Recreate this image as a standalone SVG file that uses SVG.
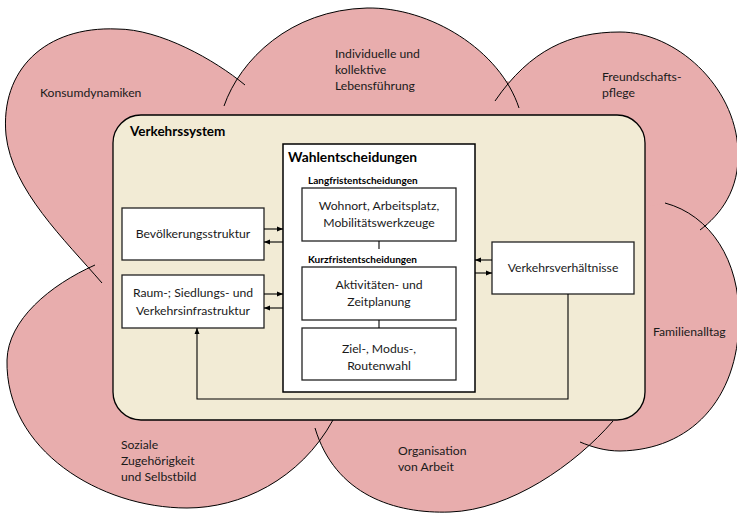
<svg xmlns="http://www.w3.org/2000/svg" width="737" height="513" viewBox="0 0 737 513">
<style>
.cloud{fill:#E8ADAD;stroke:none}
.arc{fill:none;stroke:#000;stroke-width:1}
.sys{fill:#F2EBD5;stroke:#000;stroke-width:1.3}
.box{fill:#fff;stroke:#222;stroke-width:1.3}
.outer{fill:#fff;stroke:#000;stroke-width:1.5}
.t{font-family:Lato,"Liberation Sans",sans-serif;font-size:12.2px;fill:#1a1a1a}
.c{text-anchor:middle}
.h{font-weight:bold;font-size:13.5px;fill:#000}
.s{font-weight:bold;font-size:10px;fill:#000}
.con{fill:none;stroke:#000;stroke-width:1.1}
</style>
<defs>
<marker id="ah" markerWidth="6" markerHeight="6" refX="6" refY="3" orient="auto" markerUnits="userSpaceOnUse">
<path d="M0,0.5 L6,3 L0,5.5 Z" fill="#000"/>
</marker>
</defs>
<g id="cloud">
<polygon class="cloud" points="88,270 239,80 508,81 707,225 590,445 322,440"/>
<path class="cloud" d="M102,283 C65,240 12,190 6,135 C0,70 45,26 117,29 C160,29 215,60 245,85 L370,260 Z"/>
<path class="cloud" d="M224,106 C240,60 290,10 367,8 C430,7 500,50 519,108 L370,260 Z"/>
<path class="cloud" d="M495,101 C530,50 570,32 620,32 C675,32 735,85 738,150 C740,190 720,215 700,230 L370,260 Z"/>
<path class="cloud" d="M665,203 C710,215 740,260 739,320 C738,400 690,450 620,451 C605,451 592,447 580,442 L370,260 Z"/>
<path class="cloud" d="M315,428 C335,495 395,514 450,512 C510,510 575,465 613,421 L370,260 Z"/>
<path class="cloud" d="M333,420 C300,480 240,508 187,508 C100,508 5,450 7,360 C8,320 50,285 95,265 L370,260 Z"/>
<path class="arc" d="M102,283 C65,240 12,190 6,135 C0,70 45,26 117,29 C160,29 215,60 245,85"/>
<path class="arc" d="M224,106 C240,60 290,10 367,8 C430,7 500,50 519,108"/>
<path class="arc" d="M495,101 C530,50 570,32 620,32 C675,32 735,85 738,150 C740,190 720,215 700,230"/>
<path class="arc" d="M665,203 C710,215 740,260 739,320 C738,400 690,450 620,451 C605,451 592,447 580,442"/>
<path class="arc" d="M315,428 C335,495 395,514 450,512 C510,510 575,465 613,421"/>
<path class="arc" d="M333,420 C300,480 240,508 187,508 C100,508 5,450 7,360 C8,320 50,285 95,265"/>
<text class="t" x="40" y="97">Konsumdynamiken</text>
<text class="t" x="335" y="58">Individuelle und</text>
<text class="t" x="335" y="74">kollektive</text>
<text class="t" x="335" y="90">Lebensführung</text>
<text class="t" x="602" y="81">Freundschafts-</text>
<text class="t" x="602" y="97">pflege</text>
<text class="t" x="653" y="336">Familienalltag</text>
<text class="t" x="398" y="455">Organisation</text>
<text class="t" x="398" y="471">von Arbeit</text>
<text class="t" x="121" y="449">Soziale</text>
<text class="t" x="121" y="465">Zugehörigkeit</text>
<text class="t" x="121" y="481">und Selbstbild</text>
</g>
<g id="verkehrssystem">
<rect class="sys" x="113" y="115" width="532" height="305" rx="28" ry="28"/>
<text class="t h" x="130" y="136">Verkehrssystem</text>
</g>
<g id="wahlentscheidungen">
<rect class="outer" x="283" y="144" width="192" height="248"/>
<text class="t h" x="288" y="162" style="font-size:13.8px">Wahlentscheidungen</text>
<text class="t s" x="308" y="184">Langfristentscheidungen</text>
<text class="t s" x="308" y="263">Kurzfristentscheidungen</text>
</g>
<g id="wohnort">
<rect class="box" x="302" y="188" width="154" height="53"/>
<text class="t c" x="379" y="210">Wohnort, Arbeitsplatz,</text>
<text class="t c" x="379" y="227">Mobilitätswerkzeuge</text>
</g>
<g id="aktivitaeten">
<rect class="box" x="302" y="267" width="154" height="53"/>
<text class="t c" x="379" y="289">Aktivitäten- und</text>
<text class="t c" x="379" y="306">Zeitplanung</text>
</g>
<g id="zielwahl">
<rect class="box" x="302" y="328" width="154" height="52"/>
<text class="t c" x="379" y="353">Ziel-, Modus-,</text>
<text class="t c" x="379" y="370">Routenwahl</text>
</g>
<g id="bevoelkerung">
<rect class="box" x="122" y="208" width="142" height="52"/>
<text class="t c" x="193" y="238">Bevölkerungsstruktur</text>
</g>
<g id="raum">
<rect class="box" x="122" y="275" width="142" height="53"/>
<text class="t c" x="193" y="297">Raum-; Siedlungs- und</text>
<text class="t c" x="193" y="315">Verkehrsinfrastruktur</text>
</g>
<g id="verkehrsverhaeltnisse">
<rect class="box" x="492" y="242" width="142" height="52"/>
<text class="t c" x="563" y="272">Verkehrsverhältnisse</text>
</g>
<g id="connectors">
<path class="con" d="M264,229 H283" marker-end="url(#ah)"/>
<path class="con" d="M283,242 H264" marker-end="url(#ah)"/>
<path class="con" d="M264,294 H283" marker-end="url(#ah)"/>
<path class="con" d="M283,308 H264" marker-end="url(#ah)"/>
<path class="con" d="M492,260 H475" marker-end="url(#ah)"/>
<path class="con" d="M475,273 H492" marker-end="url(#ah)"/>
<path class="con" d="M568,294 V399 H197 V328" marker-end="url(#ah)"/>
<path class="con" d="M379,241 V249"/>
<path class="con" d="M379,320 V328"/>
</g>
</svg>
